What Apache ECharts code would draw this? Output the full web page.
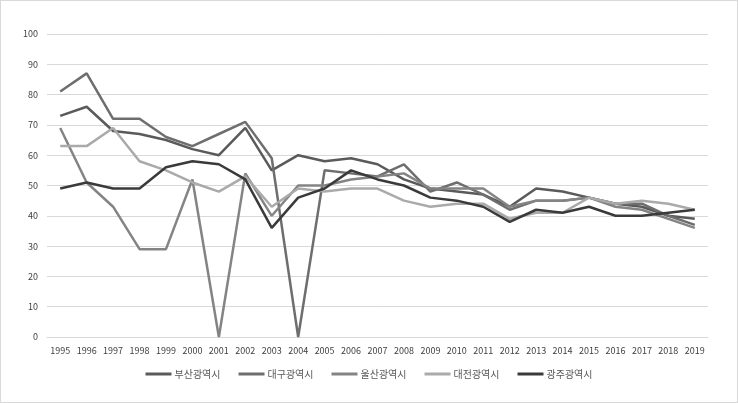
<!DOCTYPE html>
<html><head><meta charset="utf-8">
<script src="https://cdn.jsdelivr.net/npm/echarts@6/dist/echarts.min.js"></script>
<style>html,body{margin:0;padding:0;background:#fff}#c{width:738px;height:403px;box-sizing:border-box;border:1px solid #d9d9d9}</style>
</head><body><div id="c"></div>
<script>
const years = ['1995','1996','1997','1998','1999','2000','2001','2002','2003','2004','2005','2006','2007','2008','2009','2010','2011','2012','2013','2014','2015','2016','2017','2018','2019'];
const busan   = [73,76,68,67,65,62,60,69,55,60,58,59,57,52,49,48,47,43,49,48,46,44,43,40,39];
const daegu   = [81,87,72,72,66,63,67,71,59,0,55,54,53,57,48,51,47,42,45,45,46,44,44,40,37];
const ulsan   = [69,51,43,29,29,52,0,54,40,50,50,52,53,54,49,49,49,43,45,45,46,43,42,39,36];
const daejeon = [63,63,69,58,55,51,48,53,43,49,48,49,49,45,43,44,44,39,41,41,46,44,45,44,42];
const gwangju = [49,51,49,49,56,58,57,52,36,46,49,55,52,50,46,45,43,38,42,41,43,40,40,41,42];
const names = ['부산광역시','대구광역시','울산광역시','대전광역시','광주광역시'];
const colors = ['#5a5a5a','#6e6e6e','#848484','#aaaaaa','#3a3a3a'];
const data = [busan, daegu, ulsan, daejeon, gwangju];
const chart = echarts.init(document.getElementById('c'));
chart.setOption({
  animation:false,
  textStyle:{fontFamily:'"Noto Sans CJK KR", "Liberation Sans", sans-serif'},
  grid:{left:46, right:29, top:33, bottom:65},
  legend:{bottom:18, left:'center', itemWidth:26, itemHeight:3, itemGap:18, icon:'rect',
    textStyle:{fontSize:10, color:'#595959', padding:[0,0,0,-2]}, data:names},
  xAxis:{type:'category', data:years, boundaryGap:true,
    axisLine:{show:true, lineStyle:{color:'#d9d9d9'}}, axisTick:{show:false},
    axisLabel:{fontSize:9, color:'#404040', margin:9, interval:0}},
  yAxis:{type:'value', min:0, max:100, interval:10,
    axisLine:{show:false}, axisTick:{show:false},
    splitLine:{lineStyle:{color:'#d9d9d9', width:1}},
    axisLabel:{fontSize:9, color:'#404040', margin:9}},
  series: names.map((n,i)=>({name:n, type:'line', data:data[i], symbol:'none',
    lineStyle:{width:2.5, color:colors[i]}, itemStyle:{color:colors[i]}}))
});
</script></body></html>
